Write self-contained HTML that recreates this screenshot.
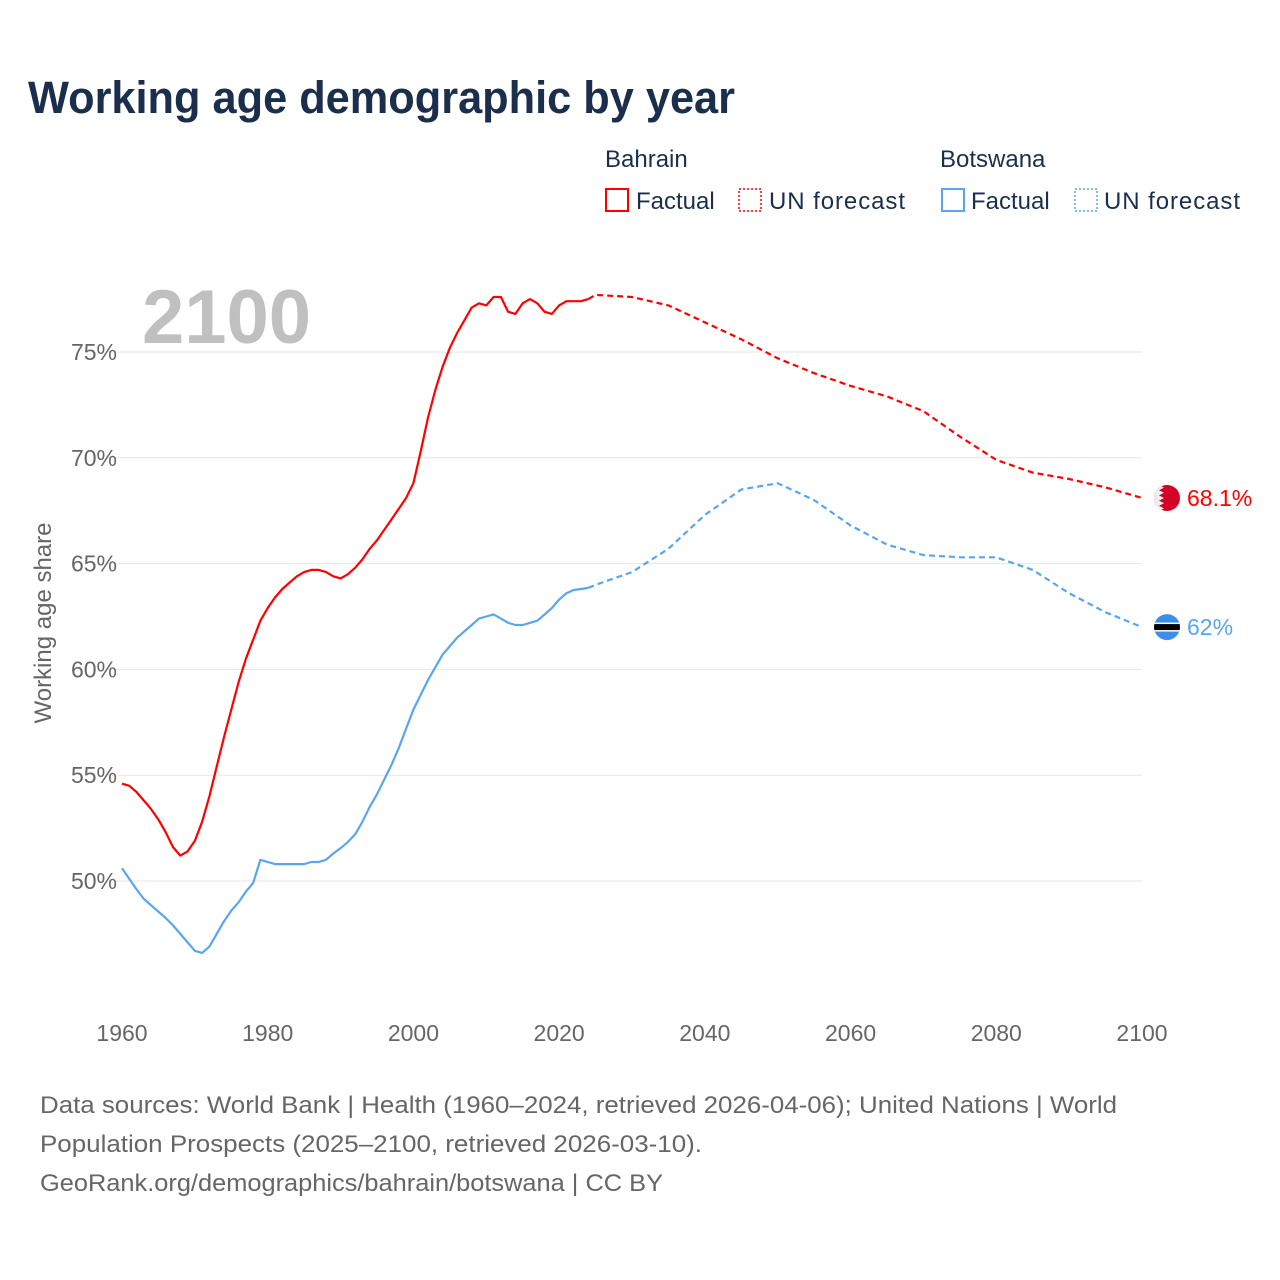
<!DOCTYPE html>
<html><head><meta charset="utf-8"><style>
body{margin:0;background:#fff;font-family:"Liberation Sans",sans-serif;}
#wrap{position:relative;width:1280px;height:1280px;overflow:hidden}
</style></head><body>
<div id="wrap">
<svg id="chart" width="1280" height="1280" style="position:absolute;left:0;top:0">
<text x="28" y="113" font-size="45" font-weight="bold" fill="#1b2f4d" textLength="707" lengthAdjust="spacingAndGlyphs">Working age demographic by year</text>
<g font-size="24" fill="#1b2f4d">
<text x="605" y="167">Bahrain</text>
<rect x="606" y="189" width="22" height="22" fill="none" stroke="#f00" stroke-width="2"/>
<text x="636" y="209">Factual</text>
<rect x="739" y="189" width="22" height="22" fill="none" stroke="#f00" stroke-width="1.5" stroke-dasharray="2,2"/>
<text x="769" y="209" textLength="136">UN forecast</text>
<text x="940" y="167">Botswana</text>
<rect x="942" y="189" width="22" height="22" fill="none" stroke="#5aa5ef" stroke-width="2"/>
<text x="971" y="209">Factual</text>
<rect x="1075" y="189" width="22" height="22" fill="none" stroke="#5aa5ef" stroke-width="1.5" stroke-dasharray="2,2"/>
<text x="1104" y="209" textLength="136">UN forecast</text>
</g>
<text x="142" y="343" font-size="76" font-weight="bold" fill="#c0c0c0">2100</text>
<text transform="translate(51,623) rotate(-90)" text-anchor="middle" font-size="24" fill="#666">Working age share</text>
<g id="grid"></g><g id="xt"></g><g id="lines"></g><g id="ends"></g>
<g font-size="24" fill="#666">
<text x="40" y="1113" textLength="1077" lengthAdjust="spacingAndGlyphs">Data sources: World Bank | Health (1960–2024, retrieved 2026-04-06); United Nations | World</text>
<text x="40" y="1152" textLength="662" lengthAdjust="spacingAndGlyphs">Population Prospects (2025–2100, retrieved 2026-03-10).</text>
<text x="40" y="1191" textLength="623" lengthAdjust="spacingAndGlyphs">GeoRank.org/demographics/bahrain/botswana | CC BY</text>
</g>
</svg>
</div>
<script>
const yTicks=[50,55,60,65,70,75];
const xTicks=[1960,1980,2000,2020,2040,2060,2080,2100];
const bhrFactYears=[1960,1961,1962,1963,1964,1965,1966,1967,1968,1969,1970,1971,1972,1973,1974,1975,1976,1977,1978,1979,1980,1981,1982,1983,1984,1985,1986,1987,1988,1989,1990,1991,1992,1993,1994,1995,1996,1997,1998,1999,2000,2001,2002,2003,2004,2005,2006,2007,2008,2009,2010,2011,2012,2013,2014,2015,2016,2017,2018,2019,2020,2021,2022,2023,2024];
const bhrFact=[54.6,54.5,54.2,53.8,53.4,52.9,52.3,51.6,51.2,51.4,51.9,52.8,54.0,55.4,56.8,58.1,59.4,60.5,61.4,62.3,62.9,63.4,63.8,64.1,64.4,64.6,64.7,64.7,64.6,64.4,64.3,64.5,64.8,65.2,65.7,66.1,66.6,67.1,67.6,68.1,68.8,70.3,71.9,73.2,74.3,75.2,75.9,76.5,77.1,77.3,77.2,77.6,77.6,76.9,76.8,77.3,77.5,77.3,76.9,76.8,77.2,77.4,77.4,77.4,77.5];
const bwaFact=[50.6,50.1,49.6,49.15,48.85,48.55,48.25,47.9,47.5,47.1,46.7,46.6,46.9,47.5,48.1,48.6,49.0,49.5,49.9,51.0,50.9,50.8,50.8,50.8,50.8,50.8,50.9,50.9,51.0,51.3,51.55,51.85,52.2,52.8,53.5,54.1,54.8,55.5,56.3,57.2,58.1,58.8,59.5,60.1,60.7,61.1,61.5,61.8,62.1,62.4,62.5,62.6,62.4,62.2,62.1,62.1,62.2,62.3,62.6,62.9,63.3,63.6,63.75,63.8,63.85];
const fcYears=[2024,2025,2030,2035,2040,2045,2050,2055,2060,2065,2070,2075,2080,2085,2090,2095,2100];
const bhrFc=[77.5,77.7,77.6,77.2,76.4,75.6,74.7,74.0,73.4,72.9,72.2,71.0,69.9,69.3,69.0,68.6,68.1];
const bwaFc=[63.85,64.0,64.6,65.7,67.3,68.5,68.8,68.0,66.8,65.9,65.4,65.3,65.3,64.7,63.6,62.7,62.0];
const NS='http://www.w3.org/2000/svg';
const X=y=>122+(y-1960)*(1020/140);
const Y=v=>881-(v-50)*(529/25);
function mk(tag,attrs,parent){const e=document.createElementNS(NS,tag);for(const k in attrs)e.setAttribute(k,attrs[k]);parent.appendChild(e);return e;}
const grid=document.getElementById('grid');
yTicks.forEach(t=>{
 const l=mk('line',{x1:108,x2:1142,y1:Y(t),y2:Y(t),stroke:'#e6e6e6','stroke-width':1},grid);
 
 
 const tx=mk('text',{x:117,y:Y(t)+8,'text-anchor':'end','font-size':23,fill:'#666'},grid);
 tx.textContent=t+'%';
 
 
});
const xt=document.getElementById('xt');
xTicks.forEach(t=>{
 const tx=mk('text',{x:X(t),y:1041,'text-anchor':'middle','font-size':23,fill:'#666'},xt);
 tx.textContent=t;
 
 
});
const lines=document.getElementById('lines');
function path(xs,vs,color,dash,name){
 const d=xs.map((x,i)=>(i?'L':'M')+X(x).toFixed(1)+','+Y(vs[i]).toFixed(1)).join('');
 const p=mk('path',{d:d,fill:'none',stroke:color,'stroke-width':2.2,'stroke-linejoin':'round'},lines);
 if(dash)p.setAttribute('stroke-dasharray',dash);
 
 
}
path(bhrFactYears,bwaFact,'#5aa5ef',null,'botswana-factual-line');
path(fcYears,bwaFc,'#5aa5ef','6,4','botswana-forecast-line');
path(bhrFactYears,bhrFact,'#ff0000',null,'bahrain-factual-line');
path(fcYears,bhrFc,'#ff0000','6,4','bahrain-forecast-line');
const ends=document.getElementById('ends');
const bx=1167,by=Y(bhrFc[bhrFc.length-1]),wy=Y(bwaFc[bwaFc.length-1]);
const g1=mk('g',{},ends);


const cp1=mk('clipPath',{id:'c1'},g1);mk('circle',{cx:bx,cy:by,r:13},cp1);
const gg=mk('g',{'clip-path':'url(#c1)'},g1);
mk('rect',{x:bx-14,y:by-14,width:28,height:28,fill:'#d40027'},gg);
let pts=`${bx-14},${by-14} `;for(let i=0;i<5;i++){const yy=by-13+i*5.2;pts+=`${bx-8},${yy} ${bx-3},${yy+2.6} `;}pts+=`${bx-8},${by+13} ${bx-14},${by+14}`;
mk('polygon',{points:pts,fill:'#eee'},gg);
const l1=mk('text',{x:1187,y:by+8,'font-size':23,fill:'#ff0000'},ends);l1.textContent='68.1%';


const g2=mk('g',{},ends);


const cp2=mk('clipPath',{id:'c2'},g2);mk('circle',{cx:bx,cy:wy,r:13},cp2);
const g2c=mk('g',{'clip-path':'url(#c2)'},g2);
mk('rect',{x:bx-14,y:wy-14,width:28,height:28,fill:'#3b8ee8'},g2c);
mk('rect',{x:bx-14,y:wy-4.5,width:28,height:9,fill:'#fff'},g2c);
mk('rect',{x:bx-14,y:wy-3,width:28,height:6,fill:'#000'},g2c);
const l2=mk('text',{x:1187,y:wy+8,'font-size':23,fill:'#5aa5ef'},ends);l2.textContent='62%';


</script>
</body></html>
